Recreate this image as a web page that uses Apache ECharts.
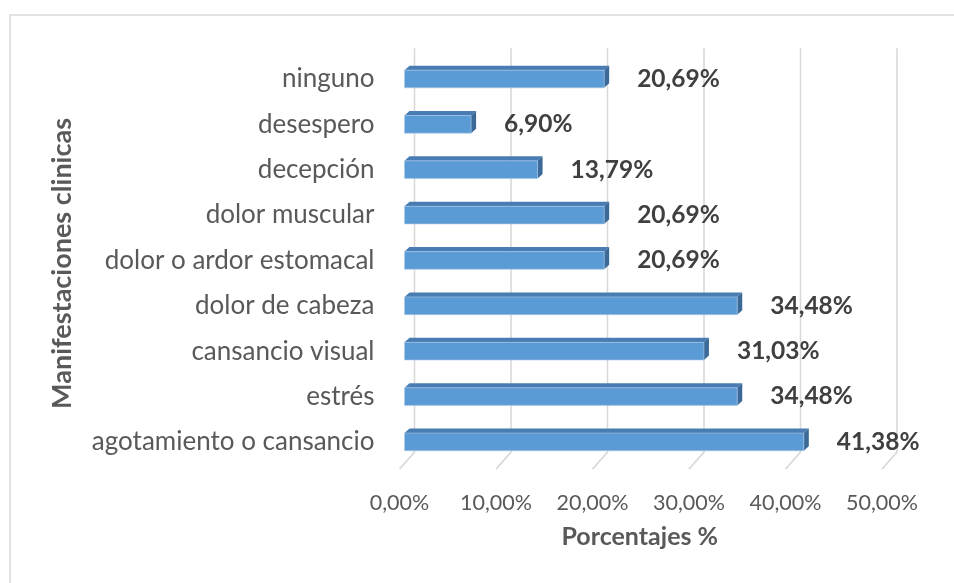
<!DOCTYPE html>
<html>
<head>
<meta charset="utf-8">
<script src="https://cdn.jsdelivr.net/npm/echarts@6/dist/echarts.min.js"></script>
<style>
  html, body { margin: 0; padding: 0; background: #fff; }
  #chart { width: 954px; height: 583px; }
</style>
</head>
<body>
<div id="chart"></div>
<script>
// categorias (de arriba hacia abajo)
const categorias = ['ninguno', 'desespero', 'decepción', 'dolor muscular', 'dolor o ardor estomacal',
  'dolor de cabeza', 'cansancio visual', 'estrés', 'agotamiento o cansancio'];
const porcentajes = [20.69, 6.90, 13.79, 20.69, 20.69, 34.48, 31.03, 34.48, 41.38];
const marcas = [0, 10, 20, 30, 40, 50];

const fmt = v => v.toFixed(2).replace('.', ',') + '%';

// barra 3D: cara frontal + tapa + lateral
const renderBar = (params, api) => {
  const val = api.value(0);
  const idx = api.value(1);
  const p0 = api.coord([0, idx]);
  const p1 = api.coord([val, idx]);
  const h = api.size([0, 1])[1] * 0.39;
  const x0 = p0[0], x1 = p1[0];
  const yt = p0[1] - h / 2, yb = p0[1] + h / 2;
  const dx = 5, dy = 4.5;
  return {
    type: 'group',
    children: [
      { type: 'polygon', shape: { points: [[x0, yt], [x0 + dx, yt - dy], [x1 + dx, yt - dy], [x1, yt]] },
        style: { fill: '#487cb3' } },
      { type: 'polygon', shape: { points: [[x1, yt], [x1 + dx, yt - dy], [x1 + dx, yb - dy], [x1, yb]] },
        style: { fill: '#3b6a98' } },
      { type: 'rect', shape: { x: x0, y: yt, width: x1 - x0, height: h },
        style: { fill: '#5b9bd5', stroke: '#a9c8e8', lineWidth: 0.6 } },
      { type: 'text', x: x1 + 33, y: p0[1],
        style: { text: fmt(val), fill: '#404040', font: 'bold 24.5px Lato', textVerticalAlign: 'middle' } }
    ]
  };
};

// lineas de cuadricula en la pared del fondo + piso
const renderGrid = (params, api) => {
  const x = api.coord([api.value(0), 0])[0];
  const cs = params.coordSys;
  const bottom = cs.y + cs.height;
  return {
    type: 'polyline',
    shape: { points: [[x + 10, cs.y - 8], [x + 10, bottom - 12.5], [x - 5, bottom + 4.5]] },
    style: { stroke: '#d9d9d9', lineWidth: 1.6, fill: null }
  };
};

const chart = echarts.init(document.getElementById('chart'));
chart.setOption({
  backgroundColor: '#fff',
  animation: false,
  textStyle: { fontFamily: 'Lato' },
  graphic: [{
    type: 'rect', left: 7.5, top: 12.5,
    shape: { width: 960, height: 600 },
    style: { fill: null, stroke: '#d9d9d9', lineWidth: 1.5 }
  }],
  grid: { left: 404.5, right: 67, top: 56.3, bottom: 118.4 },
  xAxis: {
    type: 'value', min: 0, max: 50, interval: 10,
    name: 'Porcentajes %', nameLocation: 'middle', nameGap: 60,
    nameTextStyle: { fontSize: 25, fontWeight: 'bold', color: '#595959', padding: [0, 12, 0, 0] },
    axisLine: { show: false }, axisTick: { show: false }, splitLine: { show: false },
    axisLabel: { formatter: fmt, fontSize: 21.5, color: '#595959', margin: 27, padding: [0, 10, 0, 0] }
  },
  yAxis: {
    type: 'category', data: categorias, inverse: true,
    name: 'Manifestaciones clinicas', nameLocation: 'middle', nameGap: 329,
    nameTextStyle: { fontSize: 27, fontWeight: 'bold', color: '#595959', padding: [0, 6, 0, 0] },
    axisLine: { show: false }, axisTick: { show: false },
    axisLabel: { fontSize: 26, color: '#595959', margin: 30, padding: [4, 0, 0, 0] }
  },
  series: [
    { type: 'custom', renderItem: renderGrid, data: marcas.map(v => [v]), clip: false, silent: true, z: 1 },
    { type: 'custom', renderItem: renderBar, data: porcentajes.map((v, i) => [v, i]), clip: false, z: 2 }
  ]
});
</script>
</body>
</html>
